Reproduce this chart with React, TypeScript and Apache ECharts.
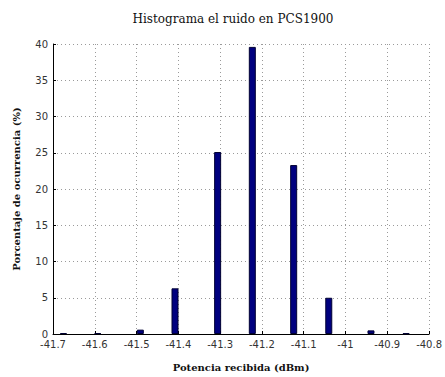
import React, { useEffect, useRef } from "react";
import * as echarts from "echarts";

const binCenters = [-41.675, -41.593, -41.491, -41.408, -41.306, -41.223, -41.124, -41.04, -40.939, -40.855];
const percentages = [0.12, 0.12, 0.6, 6.3, 25.1, 39.6, 23.3, 5.0, 0.5, 0.1];
const xTicks = { min: -41.7, max: -40.8, interval: 0.1 };
const yTicks = { min: 0, max: 40, interval: 5 };
const titleText = "Histograma el ruido en PCS1900";
const xName = "Potencia recibida (dBm)";
const yName = "Porcentaje de ocurrencia (%)";

export default function App() {
  const ref = useRef<HTMLDivElement>(null);
  useEffect(() => {
    if (!ref.current) return;
    const chart = echarts.init(ref.current, null, { renderer: "svg" });
    const gridLine = { show: true, lineStyle: { color: "#9a9a9a", type: [1, 3] as any, width: 1 } };
    chart.setOption({
      animation: false,
      backgroundColor: "#ffffff",
      title: {
        text: titleText,
        left: 228,
        top: 8,
        textAlign: "center",
        textStyle: { fontFamily: "DejaVu Serif", fontSize: 12, fontWeight: "normal", color: "#111" },
      },
      grid: { left: 53, right: 15, top: 44, bottom: 41 },
      xAxis: {
        type: "value",
        min: xTicks.min,
        max: xTicks.max,
        interval: xTicks.interval,
        name: xName,
        nameLocation: "middle",
        nameGap: 28,
        nameTextStyle: { fontFamily: "DejaVu Serif", fontSize: 10, fontWeight: "bold", color: "#111" },
        axisLine: { show: true, onZero: false, lineStyle: { color: "#000", width: 1 } },
        axisTick: { show: true, inside: true, length: 3, lineStyle: { color: "#000" } },
        axisLabel: {
          fontFamily: "DejaVu Sans",
          fontSize: 10,
          color: "#333",
          margin: 5,
          formatter: (v: number) => String(Math.round(v * 10) / 10),
        },
        splitLine: gridLine,
      },
      yAxis: {
        type: "value",
        min: yTicks.min,
        max: yTicks.max,
        interval: yTicks.interval,
        name: yName,
        nameLocation: "middle",
        nameGap: 32,
        nameTextStyle: { fontFamily: "DejaVu Serif", fontSize: 10, fontWeight: "bold", color: "#111" },
        axisLine: { show: true, lineStyle: { color: "#000", width: 1 } },
        axisTick: { show: true, inside: true, length: 3, lineStyle: { color: "#000" } },
        axisLabel: { fontFamily: "DejaVu Sans", fontSize: 10, color: "#333", margin: 5 },
        splitLine: gridLine,
      },
      series: [
        {
          type: "bar",
          data: binCenters.map((c, i) => [c, percentages[i]]),
          barWidth: 7,
          itemStyle: { color: "#00007f", borderColor: "#000033", borderWidth: 1 },
        },
      ],
    });
    return () => chart.dispose();
  }, []);
  return <div ref={ref} style={{ position: "fixed", left: 0, top: 0, width: 445, height: 377 }} />;
}
